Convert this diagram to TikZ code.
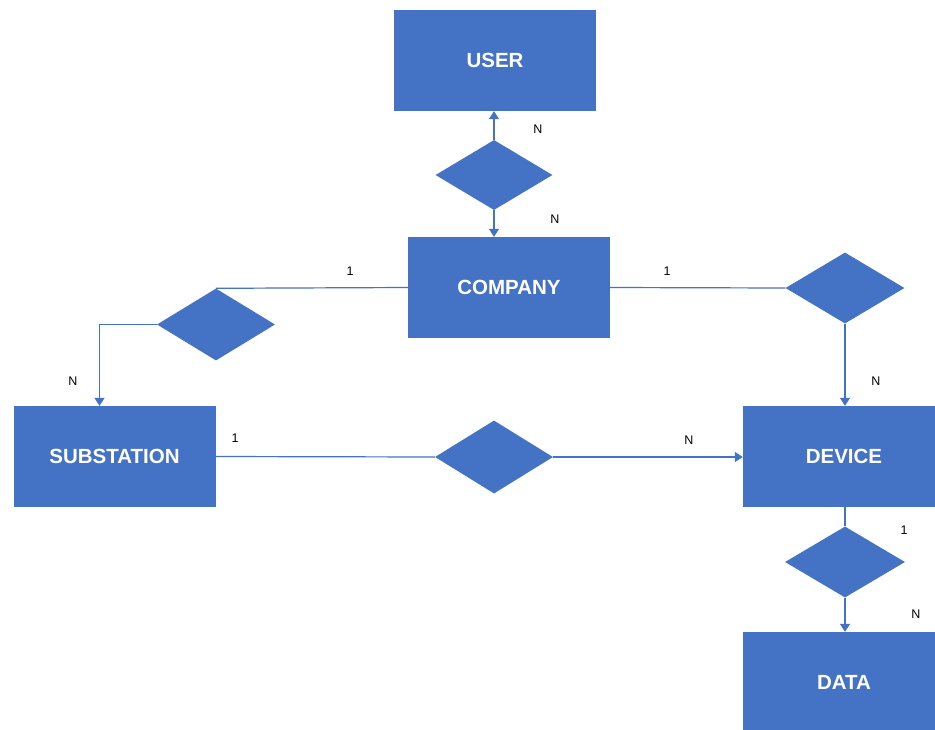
\documentclass[tikz,border=0pt]{standalone}
\usepackage{fontspec}
\setmainfont{Liberation Sans}
\usetikzlibrary{shapes.geometric,arrows.meta}
\definecolor{erblue}{HTML}{4472C4}
\begin{document}
\begin{tikzpicture}[x=1pt,y=-1pt,
  entity/.style={fill=erblue, draw=none, minimum width=202pt, minimum height=101pt,
    inner sep=0pt, text=white, font=\fontsize{20.5}{24}\selectfont\bfseries},
  rel/.style={diamond, fill=erblue, draw=none, minimum width=118pt, minimum height=72pt, inner sep=0pt},
  card/.style={font=\fontsize{12.5}{14}\selectfont, text=black, inner sep=0pt},
  link/.style={draw=erblue, line width=1.2pt},
  arr/.style={link, -{Triangle[width=10pt,length=8pt]}}]
\fill[white] (0,0) rectangle (935,729);
\useasboundingbox (0,0) rectangle (935,729);

% entities
\node[entity] (user) at (495,60.5) {USER};
\node[entity] (company) at (509,287.5) {COMPANY};
\node[entity] (sub) at (114.5,456.5) {SUBSTATION};
\node[entity] (device) at (844,456.5) {DEVICE};
\node[entity] (data) at (844,682.5) {DATA};

% relationships
\node[rel, minimum width=117pt, minimum height=70pt] (r1) at (494,175) {};
\node[rel] (r2) at (216,324.5) {};
\node[rel, minimum width=119pt, minimum height=71pt] (r3) at (845,288) {};
\node[rel, minimum height=73pt] (r4) at (494,457) {};
\node[rel, minimum width=120pt, minimum height=71pt] (r5) at (845,562) {};

% connectors
\draw[arr] (r1.north) -- (r1.north |- user.south);
\draw[arr] (r1.south) -- (r1.south |- company.north);
\draw[link] (company.west) -- (r2.north);
\coordinate (subin) at ([xshift=-15pt]sub.north);
\draw[arr] (r2.west) -| (subin);
\draw[link] (company.east) -- (r3.west);
\draw[arr] (r3.south) -- (r3.south |- device.north);
\draw[link] (sub.east) -- (r4.west);
\draw[arr] (r4.east) -- (r4.east -| device.west);
\draw[link] (r5.north |- device.south) -- (r5.north);
\draw[arr] (r5.south) -- (r5.south |- data.north);

% cardinalities
\node[card] (c1) at (538,129) {N};
\node[card] (c2) at (555,219) {N};
\node[card] (c3) at (350,271) {1};
\node[card] (c4) at (73,381) {N};
\node[card] (c5) at (667,271) {1};
\node[card] (c6) at (876,381) {N};
\node[card] (c7) at (235,438) {1};
\node[card] (c8) at (689,440) {N};
\node[card] (c9) at (904,530) {1};
\node[card] (c10) at (916,614) {N};
\end{tikzpicture}
\end{document}
